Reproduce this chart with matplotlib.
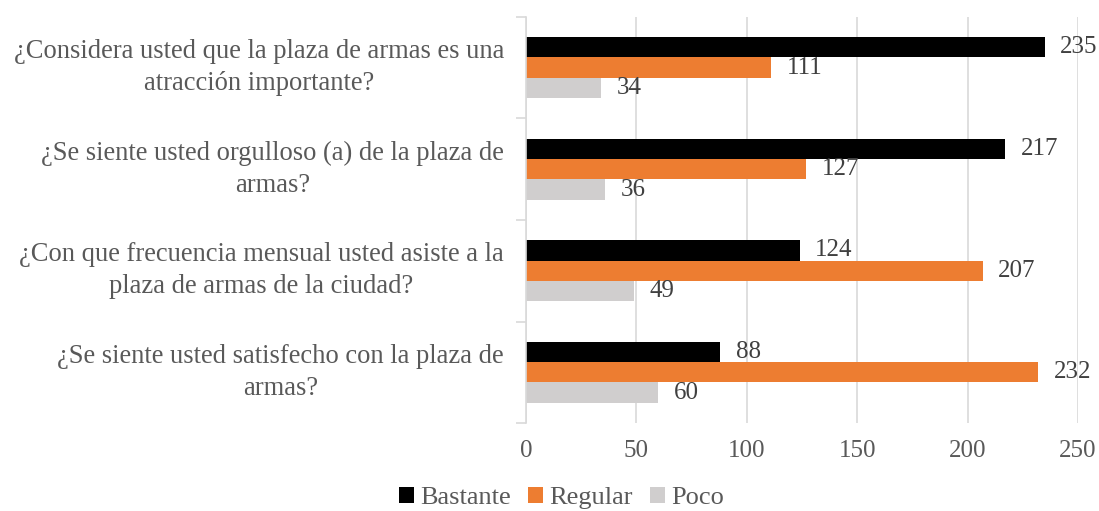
import matplotlib.pyplot as plt
import numpy as np

plt.rcParams["font.family"] = ["Liberation Serif", "DejaVu Serif"]

# data, top to bottom as in the picture
preguntas = [
    "¿Considera usted que la plaza de armas es una\natracción importante?",
    "¿Se siente usted orgulloso (a) de la plaza de\narmas?",
    "¿Con que frecuencia mensual usted asiste a la\nplaza de armas de la ciudad?",
    "¿Se siente usted satisfecho con la plaza de\narmas?",
]
bastante = [235, 217, 124, 88]
regular = [111, 127, 207, 232]
poco = [34, 36, 49, 60]
series_names = ["Bastante", "Regular", "Poco"]
colors = ["#000000", "#ED7D31", "#D0CECE"]

text_col = "#595959"
fig = plt.figure(figsize=(10.99, 5.11), dpi=100)
ax = fig.add_axes([0.4786, 0.172, 0.5023, 0.795])

y = np.arange(len(preguntas))
h = 0.2
for i, (vals, name, c) in enumerate(zip([bastante, regular, poco], series_names, colors)):
    pos = y + (i - 1) * h
    ax.barh(pos, vals, height=h, color=c, label=name, zorder=2)
    for p, v in zip(pos, vals):
        ax.annotate(str(v), (v, p), xytext=(11, 0), textcoords="offset points",
                    va="center", ha="left", fontsize=18, color="#404040")

ax.set_ylim(len(preguntas) - 0.5, -0.5)
ax.set_xlim(0, 250)
ax.set_xticks(np.arange(0, 251, 50))
ax.xaxis.grid(True, color="#D9D9D9", linewidth=1.2, zorder=0)
ax.set_axisbelow(True)

# category labels centred on groups, separators as ticks on the left spine
ax.set_yticks(np.arange(-0.5, len(preguntas), 1.0))
ax.set_yticklabels([])
ax.tick_params(axis="y", length=7, color="#D9D9D9", width=1.2)
ax.tick_params(axis="x", length=0, labelsize=18, labelcolor=text_col, pad=12)
for yy, q in zip(y, preguntas):
    ax.text(-0.04, yy, q, transform=ax.get_yaxis_transform(), ha="right",
            va="center", multialignment="center", fontsize=19.1, color=text_col,
            linespacing=1.38)

for s in ["top", "right", "bottom"]:
    ax.spines[s].set_visible(False)
ax.spines["left"].set_color("#D9D9D9")
ax.spines["left"].set_linewidth(1.2)

ax.legend(loc="center", bbox_to_anchor=(0.065, -0.185), ncol=3, frameon=False,
          fontsize=19, labelcolor=text_col, handlelength=0.55, handleheight=0.55,
          handletextpad=0.25, columnspacing=0.65)

fig.savefig("out.png", dpi=100)
